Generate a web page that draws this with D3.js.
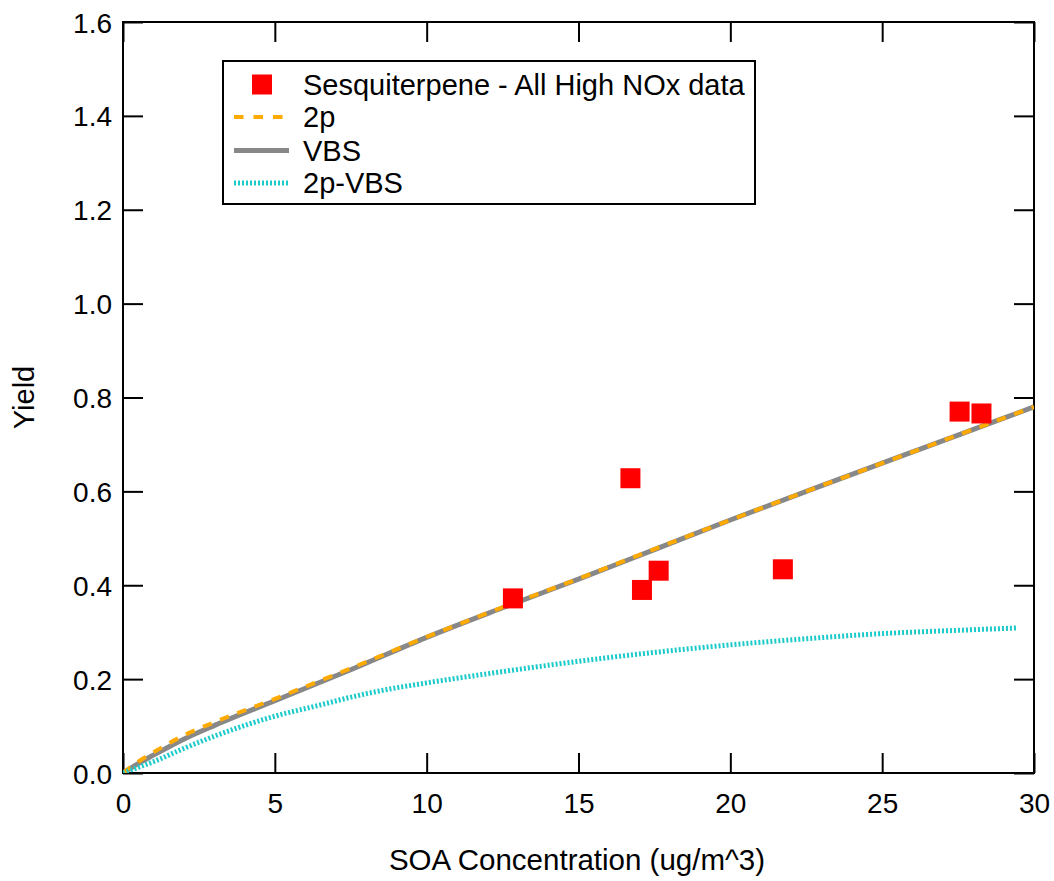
<!DOCTYPE html>
<html><head><meta charset="utf-8">
<script src="https://cdn.jsdelivr.net/npm/d3@7"></script>
<style>body{margin:0;background:#fff}svg text{font-family:"Liberation Sans",Arial,sans-serif;fill:#000}</style>
</head><body><svg id="c" width="1054" height="881"></svg>
<script>
// Data
const obsX = [12.84, 16.71, 17.09, 17.64, 21.73, 27.55, 28.27];
const obsY = [0.372, 0.628, 0.390, 0.431, 0.434, 0.770, 0.766];
const vbsX = [0, 0.5, 1, 2, 3, 5, 7.5, 10, 12.5, 15, 17.5, 20, 22.5, 25, 27.5, 30];
const vbsY = [0, 0.020, 0.038, 0.072, 0.101, 0.154, 0.220, 0.289, 0.352, 0.413, 0.476, 0.539, 0.600, 0.660, 0.720, 0.780];
const twoPX = [0, 0.5, 1, 2, 3, 5, 7.5, 10, 12.5, 15, 17.5, 20, 22.5, 25, 27.5, 30];
const twoPY = [0, 0.024, 0.044, 0.080, 0.108, 0.158, 0.223, 0.290, 0.353, 0.414, 0.477, 0.539, 0.600, 0.660, 0.720, 0.780];
const hybX = [0, 0.5, 1, 2.1, 3.2, 5, 6.5, 7.6, 8.7, 10, 12.5, 15, 17.5, 20, 22.5, 25, 27.5, 29.47];
const hybY = [0, 0.012, 0.024, 0.055, 0.083, 0.121, 0.145, 0.163, 0.178, 0.192, 0.216, 0.238, 0.257, 0.273, 0.286, 0.297, 0.304, 0.309];
const xTicks = [0, 5, 10, 15, 20, 25, 30];
const yTicks = [0.0, 0.2, 0.4, 0.6, 0.8, 1.0, 1.2, 1.4, 1.6];
const legendLabels = ["Sesquiterpene - All High NOx data", "2p", "VBS", "2p-VBS"];

const svg = d3.select("#c");
const L = 123, R = 1034, T = 22, B = 773;
const x = d3.scaleLinear().domain([0, 30]).range([L, R]);
const y = d3.scaleLinear().domain([0, 1.6]).range([B, T]);

// frame
svg.append("rect").attr("x", L).attr("y", T).attr("width", R - L).attr("height", B - T)
  .attr("fill", "none").attr("stroke", "#000").attr("stroke-width", 2);

const TL = 20;
const gB = svg.append("g").attr("transform", `translate(0,${B})`)
  .call(d3.axisBottom(x).tickValues(xTicks).tickSize(-TL).tickPadding(20).tickFormat(d3.format("d")));
const gT = svg.append("g").attr("transform", `translate(0,${T})`)
  .call(d3.axisTop(x).tickValues(xTicks).tickSize(-TL).tickFormat(""));
const gL = svg.append("g").attr("transform", `translate(${L},0)`)
  .call(d3.axisLeft(y).tickValues(yTicks).tickSize(-TL).tickPadding(11).tickFormat(d3.format(".1f")));
const gR = svg.append("g").attr("transform", `translate(${R},0)`)
  .call(d3.axisRight(y).tickValues(yTicks).tickSize(-TL).tickFormat(""));
[gB, gT, gL, gR].forEach(g => {
  g.select(".domain").remove();
  g.selectAll(".tick line").attr("stroke", "#000").attr("stroke-width", 2);
  g.selectAll(".tick text").attr("font-size", 28).attr("font-family", "Liberation Sans, Arial, sans-serif").attr("fill", "#000");
});
gL.selectAll(".tick text").attr("dy", "0.36em");

svg.append("clipPath").attr("id", "clip").append("rect").attr("x", L).attr("y", T).attr("width", R - L).attr("height", B - T);
const plot = svg.append("g").attr("clip-path", "url(#clip)");

const line = d3.line().x(d => x(d[0])).y(d => y(d[1])).curve(d3.curveMonotoneX);
const orange = "#FFAA00", gray = "#888888", cyan = "#1CCACA", red = "#FF0000";

plot.append("path").datum(vbsX.map((v, i) => [v, vbsY[i]])).attr("d", line)
  .attr("fill", "none").attr("stroke", gray).attr("stroke-width", 5);
plot.append("path").datum(twoPX.map((v, i) => [v, twoPY[i]])).attr("d", line)
  .attr("fill", "none").attr("stroke", orange).attr("stroke-width", 4).attr("stroke-dasharray", "9.5,9");
plot.append("path").datum(hybX.map((v, i) => [v, hybY[i]])).attr("d", line)
  .attr("fill", "none").attr("stroke", cyan).attr("stroke-width", 5).attr("stroke-dasharray", "2,2");

const S = 20;
plot.selectAll("rect.pt").data(obsX.map((v, i) => [v, obsY[i]])).enter().append("rect")
  .attr("class", "pt").attr("x", d => x(d[0]) - S / 2).attr("y", d => y(d[1]) - S / 2)
  .attr("width", S).attr("height", S).attr("fill", red);

// legend
const lg = svg.append("g");
lg.append("rect").attr("x", 223).attr("y", 61).attr("width", 532).attr("height", 143)
  .attr("fill", "#fff").attr("stroke", "#000").attr("stroke-width", 2);
const rows = [84.5, 117, 150.5, 183];
lg.append("rect").attr("x", 252).attr("y", rows[0] - 10).attr("width", 20).attr("height", 20).attr("fill", red);
lg.append("line").attr("x1", 234).attr("x2", 290).attr("y1", rows[1]).attr("y2", rows[1])
  .attr("stroke", orange).attr("stroke-width", 4).attr("stroke-dasharray", "9.5,10");
lg.append("line").attr("x1", 234).attr("x2", 289).attr("y1", rows[2]).attr("y2", rows[2])
  .attr("stroke", gray).attr("stroke-width", 5);
lg.append("line").attr("x1", 234).attr("x2", 288).attr("y1", rows[3]).attr("y2", rows[3])
  .attr("stroke", cyan).attr("stroke-width", 5).attr("stroke-dasharray", "2,2");
lg.selectAll("text").data(legendLabels).enter().append("text")
  .attr("x", 303).attr("y", (d, i) => rows[i]).attr("dy", "0.36em")
  .attr("font-size", 29).text(d => d);

// axis titles
svg.append("text").attr("x", 577).attr("y", 870).attr("text-anchor", "middle")
  .attr("font-size", 29.5).text("SOA Concentration (ug/m^3)");
svg.append("text").attr("transform", `translate(34,${(T + B) / 2}) rotate(-90)`).attr("text-anchor", "middle")
  .attr("font-size", 29).text("Yield");
</script></body></html>
